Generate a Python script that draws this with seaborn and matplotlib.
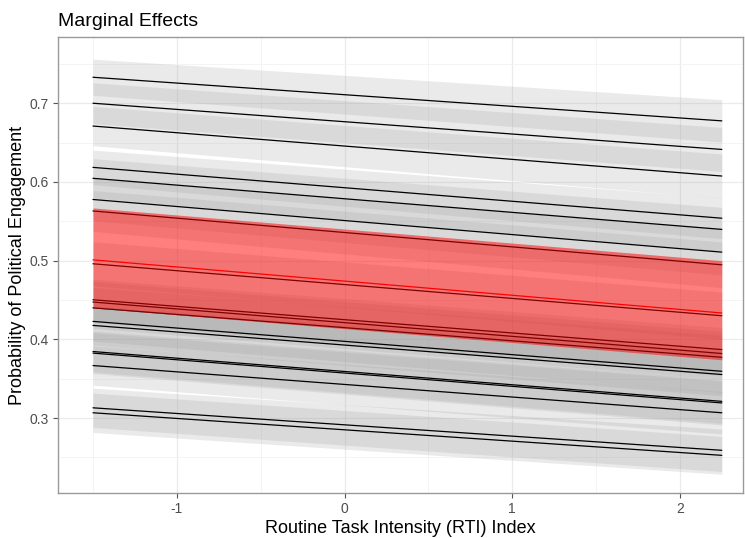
import matplotlib
matplotlib.use("Agg")
import matplotlib.pyplot as plt
from matplotlib.ticker import MultipleLocator
import numpy as np
import pandas as pd
import seaborn as sns

# RTI index range covered by the predictions
rti_ends = [-1.5, 2.25]

# predicted probability for each (grey) model, at the left and right end
black_left = [0.733, 0.700, 0.671, 0.6185, 0.6046, 0.5777, 0.5631, 0.496, 0.4503,
              0.4474, 0.440, 0.4228, 0.4177, 0.3845, 0.3825, 0.3667, 0.313, 0.3067]
black_right = [0.6776, 0.6413, 0.6075, 0.5539, 0.5397, 0.5108, 0.4947, 0.430, 0.387,
               0.382, 0.3772, 0.3594, 0.3553, 0.3212, 0.3192, 0.3067, 0.259, 0.2526]
# half width of the confidence band, left and right end
band_left = [0.023, 0.026, 0.025, 0.022, 0.025, 0.027, 0.026, 0.028, 0.026,
             0.026, 0.026, 0.025, 0.025, 0.026, 0.026, 0.025, 0.025, 0.025]
band_right = [0.027, 0.028, 0.028, 0.026, 0.028, 0.029, 0.029, 0.030, 0.028,
              0.028, 0.028, 0.027, 0.027, 0.028, 0.028, 0.027, 0.027, 0.024]

# highlighted model
red_mid = [0.501, 0.4335]
red_low = [0.440, 0.374]
red_high = [0.567, 0.500]

rows = []
for i, (a, b) in enumerate(zip(black_left, black_right)):
    rows.append({"model": i, "rti": rti_ends[0], "prob": a,
                 "low": a - band_left[i], "high": a + band_left[i]})
    rows.append({"model": i, "rti": rti_ends[1], "prob": b,
                 "low": b - band_right[i], "high": b + band_right[i]})
df = pd.DataFrame(rows)
red = pd.DataFrame({"rti": rti_ends, "prob": red_mid, "low": red_low, "high": red_high})

sns.set_theme(style="whitegrid")
plt.rcParams["font.family"] = ["Liberation Sans", "DejaVu Sans"]

fig = plt.figure(figsize=(7.45, 5.38), dpi=100)
ax = fig.add_axes([0.078, 0.084, 0.919, 0.847])

for _, g in df.groupby("model"):
    ax.fill_between(g["rti"], g["low"], g["high"], color="#999999", alpha=0.2,
                    linewidth=0, zorder=1)
sns.lineplot(data=df, x="rti", y="prob", units="model", estimator=None,
             color="black", linewidth=0.9, ax=ax, zorder=2)

# highlighted band goes over the grey lines
ax.fill_between(red["rti"], red["low"], red["high"], color="red", alpha=0.5,
                linewidth=0, zorder=3)
sns.lineplot(data=red, x="rti", y="prob", color="red", linewidth=0.9, ax=ax, zorder=4)

ax.set_xlim(-1.708, 2.375)
ax.set_ylim(0.205, 0.784)
ax.xaxis.set_minor_locator(MultipleLocator(0.5))
ax.yaxis.set_minor_locator(MultipleLocator(0.05))
ax.set_xticks([-1, 0, 1, 2])
ax.set_xticklabels(["-1", "0", "1", "2"])
ax.set_yticks([0.3, 0.4, 0.5, 0.6, 0.7])
ax.set_yticklabels(["0.3", "0.4", "0.5", "0.6", "0.7"])

ax.grid(which="major", color="#EBEBEB", linewidth=0.9)
ax.grid(which="minor", color="#F2F2F2", linewidth=0.6)
ax.set_axisbelow(True)
for s in ax.spines.values():
    s.set_visible(True)
    s.set_color("#9A9A9A")
    s.set_linewidth(1.0)
ax.tick_params(axis="both", which="major", length=3.5, width=0.8, color="#555555",
               labelsize=10, labelcolor="#4D4D4D", pad=3, bottom=True, left=True)
ax.tick_params(which="minor", length=0)

ax.set_xlabel("Routine Task Intensity (RTI) Index", fontsize=13, color="black", labelpad=3)
ax.set_ylabel("Probability of Political Engagement", fontsize=13, color="black", labelpad=3)
ax.set_title("Marginal Effects", loc="left", fontsize=14, color="black", pad=8)

fig.savefig("out.png", dpi=100)
